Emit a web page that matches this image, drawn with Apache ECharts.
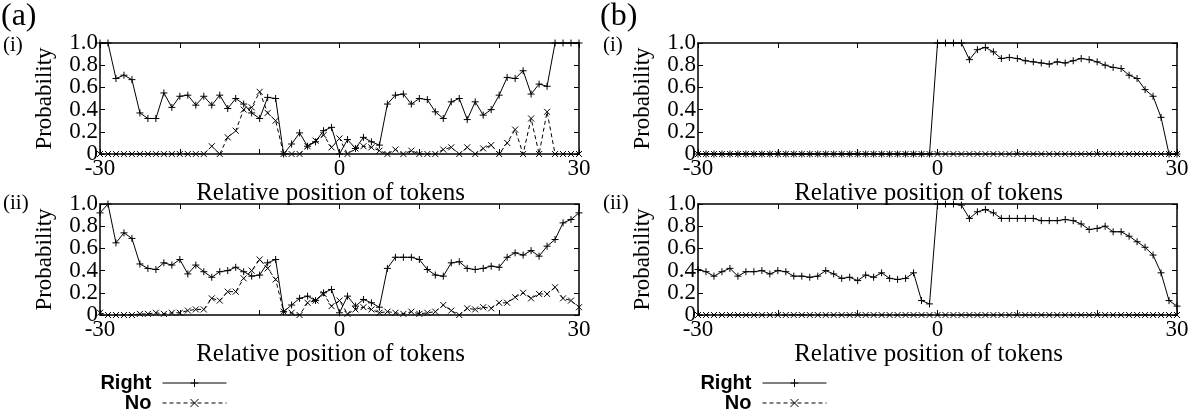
<!DOCTYPE html>
<html><head><meta charset="utf-8">
<script src="https://cdn.jsdelivr.net/npm/echarts@6/dist/echarts.min.js"></script>
<style>html,body{margin:0;padding:0;background:#fff}#c{width:1197px;height:416px}</style>
</head><body><div id="c"></div>
<script>
// ---- data ----
const positions = [-30,-29,-28,-27,-26,-25,-24,-23,-22,-21,-20,-19,-18,-17,-16,-15,-14,-13,-12,-11,-10,-9,-8,-7,-6,-5,-4,-3,-2,-1,0,1,2,3,4,5,6,7,8,9,10,11,12,13,14,15,16,17,18,19,20,21,22,23,24,25,26,27,28,29,30];
const xTickLabels = ['-30', '0', '30'];
const yTickLabels = ['0', '0.2', '0.4', '0.6', '0.8', '1.0'];
const seriesNames = ['Right', 'No'];
const panelLabels = ['(a)', '(b)'];
const rowLabels = ['(i)', '(ii)'];

const aiRight = [1.0,1.0,0.68,0.71,0.67,0.37,0.32,0.32,0.55,0.42,0.52,0.53,0.44,0.52,0.44,0.53,0.41,0.50,0.45,0.37,0.32,0.51,0.50,0.0,0.09,0.19,0.07,0.11,0.21,0.24,0.0,0.13,0.05,0.15,0.11,0.08,0.45,0.53,0.54,0.45,0.50,0.49,0.38,0.32,0.47,0.50,0.31,0.47,0.35,0.40,0.53,0.69,0.68,0.75,0.54,0.63,0.61,1.0,1.0,1.0,1.0];
const aiNo = [0,0,0,0,0,0,0,0,0,0,0,0,0,0,0.07,0,0.15,0.21,0.40,0.42,0.56,0.37,0.30,0,0,0,0.07,0.12,0.17,0.06,0.14,0,0.05,0.07,0.06,0.03,0,0.04,0,0.03,0,0,0,0.04,0.06,0,0.06,0,0.05,0.08,0,0.10,0.22,0,0.32,0,0.38,0,0,0,0];
const aiiRight = [0.92,1.0,0.65,0.74,0.69,0.46,0.42,0.41,0.47,0.45,0.50,0.37,0.45,0.39,0.34,0.39,0.40,0.43,0.39,0.35,0.36,0.47,0.50,0.03,0.09,0.15,0.17,0.13,0.20,0.23,0.02,0.17,0.08,0.14,0.11,0.07,0.42,0.52,0.52,0.52,0.50,0.41,0.36,0.35,0.47,0.48,0.42,0.41,0.42,0.44,0.43,0.52,0.56,0.54,0.58,0.53,0.62,0.68,0.83,0.86,0.92];
const aiiNo = [0.02,0,0,0,0,0.01,0.01,0.02,0.01,0.02,0.02,0.04,0.05,0.05,0.15,0.13,0.21,0.21,0.33,0.40,0.50,0.42,0.32,0.03,0.02,0,0.11,0.13,0.19,0.08,0.13,0.01,0.05,0.07,0.05,0.02,0.03,0.02,0.01,0.03,0.01,0.02,0.03,0.09,0.04,0,0.06,0.05,0.07,0.06,0.11,0.11,0.16,0.20,0.15,0.19,0.19,0.25,0.15,0.13,0.07];
const biRight = [0,0,0,0,0,0,0,0,0,0,0,0,0,0,0,0,0,0,0,0,0,0,0,0,0,0,0,0,0,0,1.0,1.0,1.0,1.0,0.85,0.94,0.96,0.92,0.86,0.87,0.86,0.84,0.83,0.82,0.81,0.83,0.82,0.84,0.86,0.85,0.83,0.80,0.78,0.77,0.71,0.68,0.58,0.52,0.33,0,0];
const biNo = [0,0,0,0,0,0,0,0,0,0,0,0,0,0,0,0,0,0,0,0,0,0,0,0,0,0,0,0,0,0,0,0,0,0,0,0,0,0,0,0,0,0,0,0,0,0,0,0,0,0,0,0,0,0,0,0,0,0,0,0,0];
const biiRight = [0.41,0.39,0.35,0.39,0.42,0.35,0.39,0.39,0.40,0.37,0.40,0.39,0.35,0.35,0.34,0.35,0.40,0.37,0.33,0.34,0.31,0.36,0.34,0.38,0.33,0.32,0.33,0.38,0.13,0.10,1.0,1.0,1.0,0.99,0.87,0.93,0.95,0.92,0.87,0.87,0.87,0.87,0.87,0.85,0.85,0.85,0.86,0.85,0.82,0.77,0.78,0.80,0.75,0.75,0.71,0.66,0.61,0.54,0.38,0.13,0.08];
const biiNo = [0,0,0,0,0,0,0,0,0,0,0,0,0,0,0,0,0,0,0,0,0,0,0,0,0,0,0,0,0,0,0,0,0,0,0,0,0,0,0,0,0,0,0,0,0,0,0,0,0,0,0,0,0,0,0,0,0,0,0,0,0];

// ---- chart ----
const panels = [
  { right: aiRight, no: aiNo },
  { right: aiiRight, no: aiiNo },
  { right: biRight, no: biNo },
  { right: biiRight, no: biiNo }
];
const SERIF = 'Liberation Serif';
const PLUS = 'path://M0,5L10,5M5,0L5,10';
const CROSS = 'path://M0,0L10,10M10,0L0,10';
const gridPos = [[100, 43], [100, 204], [698, 43], [698, 204]];

const grid = [], xAxis = [], yAxis = [], series = [];
const pairs = arr => positions.map((p, i) => [p, arr[i]]);
const frame = { show: true, onZero: false, lineStyle: { color: '#000', width: 1.5 } };
const tick = { show: true, inside: true, length: 5, lineStyle: { color: '#000', width: 1 } };
const yLabelStyle = { margin: 2, color: '#000', fontFamily: SERIF, fontSize: 23, hideOverlap: false };

panels.forEach((pd, i) => {
  grid.push({ left: gridPos[i][0], top: gridPos[i][1], width: 479, height: 111, containLabel: false, outerBoundsMode: 'none' });
  xAxis.push({
    gridIndex: i, type: 'value', min: -30, max: 30, interval: 10, position: 'bottom',
    axisLine: frame, axisTick: tick, splitLine: { show: false },
    axisLabel: { margin: 3, color: '#000', fontFamily: SERIF, fontSize: 23, showMinLabel: true, showMaxLabel: true, hideOverlap: false,
      formatter: v => xTickLabels.indexOf(String(v)) >= 0 ? String(v) : '' },
    name: 'Relative position of tokens', nameLocation: 'middle', nameGap: 12,
    nameTextStyle: { color: '#000', fontFamily: SERIF, fontSize: 25, padding: [0, 18, 0, 0] }
  });
  xAxis.push({
    gridIndex: i, type: 'value', min: -30, max: 30, interval: 10, position: 'top',
    axisLine: frame, axisTick: tick, splitLine: { show: false }, axisLabel: { show: false }
  });
  // left axis: frame, ticks, even-index labels and the axis name
  yAxis.push({
    gridIndex: i, type: 'value', min: 0, max: 1, interval: 0.2, position: 'left',
    axisLine: frame, axisTick: tick, splitLine: { show: false },
    axisLabel: Object.assign({}, yLabelStyle, {
      formatter: v => { const k = Math.round(v * 5); return k % 2 === 0 ? yTickLabels[k] : ''; } }),
    name: 'Probability', nameLocation: 'middle', nameRotate: 90, nameGap: 44,
    nameTextStyle: { color: '#000', fontFamily: SERIF, fontSize: 23 }
  });
  yAxis.push({
    gridIndex: i, type: 'value', min: 0, max: 1, interval: 0.2, position: 'right',
    axisLine: frame, axisTick: tick, splitLine: { show: false }, axisLabel: { show: false }
  });
  // second left axis: odd-index labels only (avoids ECharts hiding crowded labels)
  yAxis.push({
    gridIndex: i, type: 'value', min: 0, max: 1, interval: 0.2, position: 'left', offset: 0,
    axisLine: { show: false, onZero: false }, axisTick: { show: false }, splitLine: { show: false },
    axisLabel: Object.assign({}, yLabelStyle, {
      formatter: v => { const k = Math.round(v * 5); return k % 2 === 1 ? yTickLabels[k] : ''; } })
  });
  series.push({
    name: seriesNames[0], type: 'line', xAxisIndex: 2 * i, yAxisIndex: 3 * i,
    data: pairs(pd.right), symbol: PLUS, symbolSize: 7, showSymbol: true, clip: false,
    lineStyle: { color: '#000', width: 1, type: 'solid' },
    itemStyle: { color: '#000', borderColor: '#000', borderWidth: 1 },
    emphasis: { disabled: true }
  });
  series.push({
    name: seriesNames[1], type: 'line', xAxisIndex: 2 * i, yAxisIndex: 3 * i,
    data: pairs(pd.no), symbol: CROSS, symbolSize: 6, showSymbol: true, clip: false,
    lineStyle: { color: '#000', width: 1, type: [4, 3] },
    itemStyle: { color: '#000', borderColor: '#000', borderWidth: 1 },
    emphasis: { disabled: true }
  });
});

const legendItem = (name, right, top) => ({
  data: [name], orient: 'vertical', align: 'right', right: right, top: top,
  itemWidth: 64, itemHeight: 10, padding: 0, selectedMode: false,
  formatter: n => '{t|' + n + '}',
  textStyle: { color: '#000', rich: { t: { width: 56, align: 'right', color: '#000', padding: [0, 6, 0, 0],
    fontFamily: 'Liberation Sans', fontWeight: 'bold', fontSize: 20 } } },
  itemStyle: { borderWidth: 1, borderColor: '#000' },
  lineStyle: { width: 1 }
});

const textEl = (t, x, y, size) => ({
  type: 'text', x: x, y: y,
  style: { text: t, fill: '#000', font: size + 'px "' + SERIF + '"', verticalAlign: 'middle', align: 'left' }
});

const chart = echarts.init(document.getElementById('c'), null, { renderer: 'canvas' });
chart.setOption({
  animation: false,
  backgroundColor: '#fff',
  grid, xAxis, yAxis, series,
  legend: [
    legendItem(seriesNames[0], 970, 373),
    legendItem(seriesNames[1], 970, 393),
    legendItem(seriesNames[0], 370, 373),
    legendItem(seriesNames[1], 370, 393)
  ],
  graphic: [
    textEl(panelLabels[0], 1, 17, 32),
    textEl(panelLabels[1], 600, 17, 32),
    textEl(rowLabels[0], 3, 45, 21),
    textEl(rowLabels[1], 3, 203, 21),
    textEl(rowLabels[0], 603, 45, 21),
    textEl(rowLabels[1], 603, 203, 21)
  ]
});
</script>
</body></html>
